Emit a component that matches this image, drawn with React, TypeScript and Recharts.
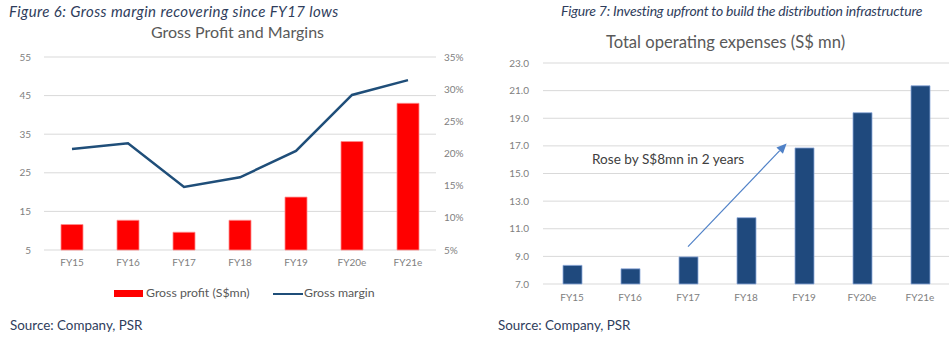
import React from "react";
import {
  ComposedChart, BarChart, Bar, Line, XAxis, YAxis, CartesianGrid, ReferenceLine,
} from "recharts";

const years = ["FY15", "FY16", "FY17", "FY18", "FY19", "FY20e", "FY21e"];
const grossProfit = [11.6, 12.7, 9.6, 12.7, 18.7, 33.1, 43.0];
const grossMargin = [0.207, 0.216, 0.148, 0.163, 0.204, 0.291, 0.314];
const opex = [8.35, 8.1, 8.96, 11.8, 16.85, 19.4, 21.35];

const gpTicks = [5, 15, 25, 35, 45, 55];
const gmTicks = [0.05, 0.1, 0.15, 0.2, 0.25, 0.3, 0.35];
const opexTicks = [7, 9, 11, 13, 15, 17, 19, 21, 23];

// arrow annotation on the right chart (data space)
const arrowFrom = { x: "FY17", y: 9.7 };
const arrowTo = { x: "FY19", y: 18.5 };

const leftData = years.map((y, i) => ({ year: y, gp: grossProfit[i], gm: grossMargin[i] }));
const rightData = years.map((y, i) => ({ year: y, opex: opex[i] }));

const FONT = "Lato, 'Open Sans', sans-serif";
const tick = { fill: "#808080", fontSize: 10, fontFamily: FONT };
const titleBlue = "#2f3d5c";

const Arrow = (props: any) => {
  const { x1, y1, x2, y2 } = props;
  const t = 0.85;
  const xe = x1 + (x2 - x1) * t;
  const ye = y1 + (y2 - y1) * t;
  const ang = Math.atan2(ye - y1, xe - x1);
  const len = 10, w = 4.5;
  const bx = xe - len * Math.cos(ang), by = ye - len * Math.sin(ang);
  const px = -Math.sin(ang) * w, py = Math.cos(ang) * w;
  return (
    <g>
      <line x1={x1} y1={y1} x2={bx} y2={by} stroke="#4f81c7" strokeWidth={1.2} />
      <polygon points={`${xe},${ye} ${bx + px},${by + py} ${bx - px},${by - py}`} fill="#4f81c7" />
    </g>
  );
};

const abs = (s: React.CSSProperties): React.CSSProperties => ({ position: "absolute", ...s });

export default function App() {
  return (
    <div style={abs({ left: 0, top: 0, width: 950, height: 346, background: "#fff", fontFamily: FONT })}>
      <div style={abs({ left: 9, top: 3.5, fontSize: 15, lineHeight: "15px", letterSpacing: 0.4, fontStyle: "italic", color: titleBlue, whiteSpace: "nowrap" })}>
        Figure 6: Gross margin recovering since FY17 lows
      </div>
      <div style={abs({ left: 0, top: 24, width: 475, textAlign: "center", fontSize: 16, lineHeight: "16px", color: "#595959" })}>
        Gross Profit and Margins
      </div>
      <div style={abs({ left: 561, top: 4, fontSize: 14, lineHeight: "14px", letterSpacing: -0.2, fontStyle: "italic", color: titleBlue, whiteSpace: "nowrap" })}>
        Figure 7: Investing upfront to build the distribution infrastructure
      </div>
      <div style={abs({ left: 488, top: 33.5, width: 475, textAlign: "center", fontSize: 16.6, lineHeight: "16.6px", color: "#595959" })}>
        Total operating expenses (S$ mn)
      </div>

      <div style={abs({ left: 0, top: 0 })}>
        <ComposedChart width={475} height={346} data={leftData} margin={{ top: 57, right: 0, bottom: 66, left: 0 }}>
          <CartesianGrid yAxisId="gp" vertical={false} stroke="#d9d9d9" />
          <XAxis dataKey="year" height={30} axisLine={false} tickLine={false} tickSize={0} tickMargin={9} tick={tick} />
          <YAxis yAxisId="gp" domain={[5, 55]} ticks={gpTicks} width={44} axisLine={false} tickLine={false} tickSize={0} tickMargin={13} tick={tick} />
          <YAxis yAxisId="gm" orientation="right" domain={[0.05, 0.35]} ticks={gmTicks} width={39} axisLine={false} tickLine={false} tickSize={0} tickMargin={8} tick={tick}
            tickFormatter={(v: number) => `${Math.round(v * 100)}%`} />
          <Bar yAxisId="gp" dataKey="gp" name="Gross profit (S$mn)" fill="#ff0000" stroke="#ff8c8c" strokeWidth={0.8} barSize={22} isAnimationActive={false} />
          <Line yAxisId="gm" dataKey="gm" name="Gross margin" stroke="#1f4e79" strokeWidth={2.5} dot={false} type="linear" isAnimationActive={false} />
        </ComposedChart>
      </div>

      <div style={abs({ left: 114, top: 290, width: 29, height: 7, background: "#ff0000" })} />
      <div style={abs({ left: 146, top: 287, fontSize: 12.3, lineHeight: "12.3px", color: "#595959", whiteSpace: "nowrap" })}>Gross profit (S$mn)</div>
      <div style={abs({ left: 273, top: 292.5, width: 30, height: 2.5, background: "#1f4e79" })} />
      <div style={abs({ left: 304, top: 287, fontSize: 12.3, lineHeight: "12.3px", color: "#595959", whiteSpace: "nowrap" })}>Gross margin</div>

      <div style={abs({ left: 475, top: 0 })}>
        <BarChart width={475} height={346} data={rightData} margin={{ top: 63, right: 1, bottom: 32, left: 0 }}>
          <CartesianGrid vertical={false} stroke="#d9d9d9" />
          <XAxis dataKey="year" height={30} axisLine={false} tickLine={false} tickSize={0} tickMargin={10} tick={tick} />
          <YAxis domain={[7, 23]} ticks={opexTicks} width={68} axisLine={false} tickLine={false} tickSize={0} tickMargin={14} tick={tick}
            tickFormatter={(v: number) => v.toFixed(1)} />
          <Bar dataKey="opex" fill="#1f497d" stroke="#8eaadb" strokeWidth={0.8} barSize={19} isAnimationActive={false} />
          <ReferenceLine segment={[arrowFrom, arrowTo]} shape={Arrow} ifOverflow="visible" />
        </BarChart>
      </div>
      <div style={abs({ left: 592, top: 153, fontSize: 13.6, lineHeight: "13.6px", color: "#404040", whiteSpace: "nowrap" })}>
        Rose by S$8mn in 2 years
      </div>

      <div style={abs({ left: 10, top: 319, fontSize: 13.4, lineHeight: "13.4px", color: titleBlue, whiteSpace: "nowrap" })}>Source: Company, PSR</div>
      <div style={abs({ left: 498, top: 319, fontSize: 13.4, lineHeight: "13.4px", color: titleBlue, whiteSpace: "nowrap" })}>Source: Company, PSR</div>
    </div>
  );
}
